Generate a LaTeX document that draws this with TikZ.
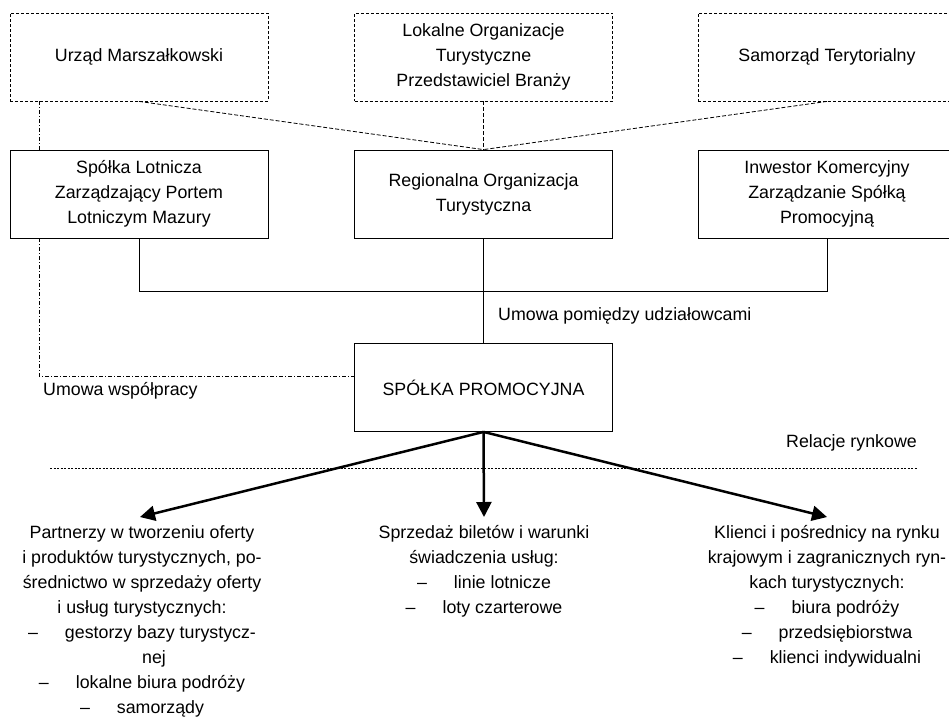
\documentclass[tikz,border=0pt]{standalone}
\usepackage{fontspec}
\setmainfont{Liberation Sans}
\usepackage{tikz}
\usetikzlibrary{arrows.meta}
\newcommand{\kreska}{–\hspace{27pt}}

\begin{document}
\begin{tikzpicture}[x=1pt,y=-1pt,
    box/.style={minimum width=258pt,minimum height=88pt,inner sep=0pt,
        align=center,font=\fontsize{17.8}{25}\selectfont,line width=0.8pt,fill=white},
    gorabox/.style={box,dash pattern=on 3pt off 2pt},
    opis/.style={inner sep=0pt,align=center,font=\fontsize{17.8}{25}\selectfont},
    etykieta/.style={inner sep=0pt,anchor=west,font=\fontsize{17.8}{25}\selectfont},
    nadzor/.style={line width=0.8pt,dash pattern=on 4pt off 2pt},
    wspolpraca/.style={line width=0.8pt,dash pattern=on 4pt off 2pt on 1pt off 2pt},
    strzalka/.style={line width=2.5pt,-{Triangle[length=15pt,width=15pt]}}]
    \useasboundingbox (0,0) rectangle (949,718);
    \clip (0,0) rectangle (949,718);
    %\draw[help lines,step=50] (0,0) grid (949,718);
    % gorny rzad
    \node[gorabox,draw] (marszalek) at (139,57) {Urząd Marszałkowski};
    \node[gorabox,draw] (lokalne) at (483.5,57) {Lokalne Organizacje\\Turystyczne\\Przedstawiciel Branży};
    \node[gorabox,draw] (samorzad) at (827,57) {Samorząd Terytorialny};
    % udzialowcy
    \path (39,101) coordinate (wA);
    \path (39,150) coordinate (wB);
    \path (39,238) coordinate (wC);
    \path (39,376) coordinate (wD);
    \draw[wspolpraca] (wA)--(wB);
    \node[box,draw] (lotnicza) at (139,194) {Spółka Lotnicza\\Zarządzający Portem\\Lotniczym Mazury};
    \node[box,draw] (rot) at (483.5,194) {Regionalna Organizacja\\Turystyczna};
    \node[box,draw] (inwestor) at (827,194) {Inwestor Komercyjny\\Zarządzanie Spółką\\Promocyjną};
    \draw[nadzor] (marszalek.south)--(rot.north);
    \draw[nadzor] (lokalne.south)--(rot.north);
    \draw[nadzor] (samorzad.south)--(rot.north);
    \node[box,draw] (spolka) at (483.5,387.5) {SPÓŁKA PROMOCYJNA};
    \path (lotnicza.south) ++(0,53) coordinate (uL);
    \draw[line width=0.8pt] (lotnicza.south)--(uL) -| (inwestor.south);
    \draw[line width=0.8pt] (rot.south)--(spolka.north);
    \draw[wspolpraca] (wC)--(wD)--(wD-|spolka.west);
    \node[etykieta] (umowaU) at (498,316) {Umowa pomiędzy udziałowcami};
    \node[etykieta] (umowaW) at (43,391) {Umowa współpracy};
    \node[etykieta] (relacje) at (786,443) {Relacje rynkowe};
    \path (50,468) coordinate (linL);
    \path (917,468) coordinate (linP);
    \draw[line width=0.7pt,dash pattern=on 2pt off 1.5pt] (linL)--(linP);
    % rynek
    \node[opis,anchor=north] (partnerzy) at (142,525) {Partnerzy w tworzeniu oferty\\i produktów turystycznych, po-\\średnictwo w sprzedaży oferty\\i usług turystycznych:\\\kreska gestorzy bazy turystycz-\\\hspace*{24pt}nej\\\kreska lokalne biura podróży\\\kreska samorządy};
    \node[opis,anchor=north] (bilety) at (484,525) {Sprzedaż biletów i warunki\\świadczenia usług:\\\kreska linie lotnicze\\\kreska loty czarterowe};
    \node[opis,anchor=north] (klienci) at (827,525) {Klienci i pośrednicy na rynku\\krajowym i zagranicznych ryn-\\kach turystycznych:\\\kreska biura podróży\\\kreska przedsiębiorstwa\\\kreska klienci indywidualni};
    \path (140,517) coordinate (grotL);
    \path (484,517) coordinate (grotS);
    \path (827,517) coordinate (grotP);
    \draw[strzalka] (spolka.south)--(grotL);
    \draw[strzalka] (spolka.south)--(grotS);
    \draw[strzalka] (spolka.south)--(grotP);
\end{tikzpicture}
\end{document}
